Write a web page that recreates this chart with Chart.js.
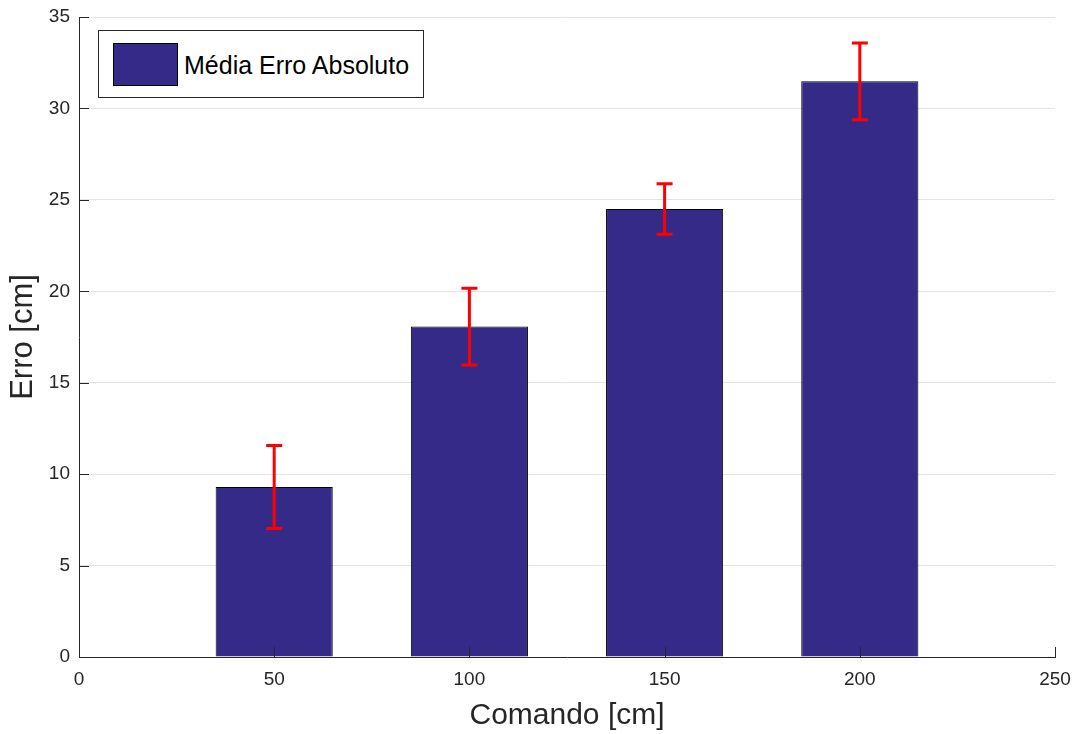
<!DOCTYPE html>
<html lang="pt">
<head>
<meta charset="utf-8">
<title>Média Erro Absoluto</title>
<script src="https://cdn.jsdelivr.net/npm/chart.js@4.4.1/dist/chart.umd.min.js"></script>
<style>
  html, body { margin: 0; padding: 0; background: #fff; }
  #wrap { position: relative; width: 1072px; height: 734px; }
  #legend { position: absolute; left: 98px; top: 30px; width: 324px; height: 66px;
            border: 1px solid #262626; background: #fff; box-sizing: content-box; }
  #legend .swatch { position: absolute; left: 14px; top: 12px; width: 63px; height: 41px;
                    border: 1px solid #000; }
  #legend .label { position: absolute; left: 85px; top: 22px; font: 25px "Liberation Sans", Arial, sans-serif;
                   line-height: 25px; color: #000; white-space: nowrap; }
</style>
</head>
<body>
<div id="wrap">
  <canvas id="chart" width="1072" height="734"></canvas>
  <div id="legend"><div class="swatch"></div><div class="label"></div></div>
</div>
<script>
// Commanded distance (cm) and mean absolute error with its spread (cm)
const comandos = [50, 100, 150, 200];
const mediaErro = [9.3, 18.07, 24.5, 31.48];
const desvio = [2.27, 2.1, 1.38, 2.1];
const xTicks = [0, 50, 100, 150, 200, 250];
const yTicks = [0, 5, 10, 15, 20, 25, 30, 35];

const serieNome = 'Média Erro Absoluto';
const corBarra = '#352A87';
const axisColor = '#262626';
const FONT = '"Liberation Sans", Arial, sans-serif';

// Red error bars centred on each bar top
const errorBars = {
  id: 'errorBars',
  afterDatasetsDraw(chart) {
    const { ctx, scales: { x, y } } = chart;
    ctx.save();
    ctx.strokeStyle = '#ff0000';
    ctx.lineWidth = 3;
    ctx.lineCap = 'butt';
    const cap = 8;
    comandos.forEach((c, i) => {
      const px = x.getPixelForValue(c);
      const top = y.getPixelForValue(mediaErro[i] + desvio[i]);
      const bot = y.getPixelForValue(mediaErro[i] - desvio[i]);
      ctx.beginPath();
      ctx.moveTo(px, top); ctx.lineTo(px, bot);
      ctx.moveTo(px - cap, top); ctx.lineTo(px + cap, top);
      ctx.moveTo(px - cap, bot); ctx.lineTo(px + cap, bot);
      ctx.stroke();
    });
    ctx.restore();
  }
};

// Short tick marks pointing into the plot area
const innerTicks = {
  id: 'innerTicks',
  afterDraw(chart) {
    const { ctx, chartArea: a, scales: { x, y } } = chart;
    ctx.save();
    ctx.strokeStyle = axisColor;
    ctx.lineWidth = 1;
    ctx.beginPath();
    y.ticks.forEach(t => {
      const py = Math.round(y.getPixelForValue(t.value)) + 0.5;
      ctx.moveTo(a.left, py); ctx.lineTo(a.left + 10, py);
    });
    x.ticks.forEach(t => {
      const px = Math.round(x.getPixelForValue(t.value)) + 0.5;
      ctx.moveTo(px, a.bottom); ctx.lineTo(px, a.bottom - 10);
    });
    ctx.stroke();
    ctx.restore();
  }
};

const chart = new Chart(document.getElementById('chart'), {
  type: 'bar',
  data: {
    datasets: [{
      label: serieNome,
      data: comandos.map((c, i) => ({ x: c, y: mediaErro[i] })),
      backgroundColor: corBarra,
      borderColor: '#000',
      borderWidth: 1,
      borderSkipped: 'start',
      barPercentage: 0.6,
      categoryPercentage: 1.0
    }]
  },
  options: {
    responsive: false,
    animation: false,
    layout: { padding: { top: 17, right: 17, left: 0, bottom: 0 } },
    plugins: { legend: { display: false }, tooltip: { enabled: false } },
    scales: {
      x: {
        type: 'linear',
        min: 0, max: 250,
        offset: false,
        afterBuildTicks: s => { s.ticks = xTicks.map(v => ({ value: v })); },
        afterFit: s => { s.height = 77; s.paddingLeft = 0; s.paddingRight = 0; },
        grid: { display: false, offset: false, drawTicks: false },
        border: { display: true, color: axisColor, width: 1 },
        ticks: { padding: 11, color: axisColor, font: { family: FONT, size: 19 }, maxRotation: 0 },
        title: { display: true, text: 'Comando [cm]', color: axisColor,
                 font: { family: FONT, size: 30 }, padding: { top: 0, bottom: 0 } }
      },
      y: {
        min: 0, max: 35,
        afterBuildTicks: s => { s.ticks = yTicks.map(v => ({ value: v })); },
        afterFit: s => { s.width = 79; s.paddingTop = 0; s.paddingBottom = 0; },
        grid: { color: '#e3e3e3', lineWidth: 1, drawTicks: false },
        border: { display: true, color: axisColor, width: 1 },
        ticks: { padding: 9, color: axisColor, font: { family: FONT, size: 19 } },
        title: { display: true, text: 'Erro [cm]', color: axisColor,
                 font: { family: FONT, size: 31 }, padding: { top: 5, bottom: 0 } }
      }
    }
  },
  plugins: [errorBars, innerTicks]
});

// Legend box drawn from the dataset itself
const ds = chart.data.datasets[0];
document.querySelector('#legend .swatch').style.background = ds.backgroundColor;
document.querySelector('#legend .label').textContent = ds.label;
</script>
</body>
</html>
